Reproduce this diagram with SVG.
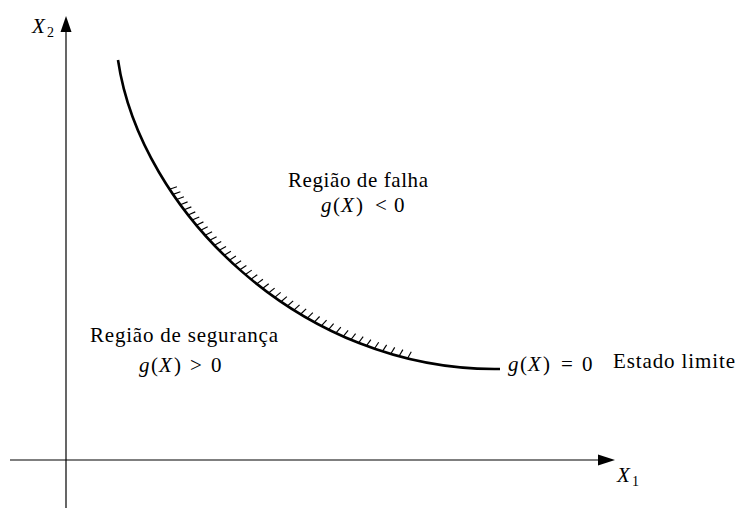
<svg xmlns="http://www.w3.org/2000/svg" width="738" height="510" viewBox="0 0 738 510">
<style>
text{font-family:'Liberation Serif','DejaVu Serif',serif;font-size:21px;fill:#000}
.i{font-style:italic}
.s{font-size:14px}
.ax{stroke:#000;stroke-width:1.2;fill:none}
</style>
<defs>
<marker id="tick" markerUnits="userSpaceOnUse" markerWidth="20" markerHeight="20" refX="0" refY="0" orient="auto" overflow="visible">
<line x1="0" y1="0" x2="2" y2="-7.5" stroke="#000" stroke-width="1.15"/>
</marker>
</defs>
<g id="axes">
<line class="ax" x1="66" y1="508" x2="66" y2="30"/>
<polygon points="66,16 60.5,32 71.5,32" fill="#000"/>
<line class="ax" x1="10" y1="460" x2="600" y2="460"/>
<polygon points="615,460 598,454.5 598,465.5" fill="#000"/>
<text x="32" y="33" font-size="23"><tspan class="i">X</tspan><tspan class="s" x="47" y="37">2</tspan></text>
<text x="617" y="482" font-size="23"><tspan class="i">X</tspan><tspan class="s" x="632" y="486">1</tspan></text>
</g>
<g id="limit-curve">
<polyline fill="none" stroke="none" marker-start="url(#tick)" marker-mid="url(#tick)" marker-end="url(#tick)" points="169.57,189.21 173.03,194.37 176.62,199.52 180.33,204.67 184.15,209.82 188.11,214.95 192.18,220.07 196.38,225.17 200.71,230.25 205.16,235.31 209.73,240.35 214.44,245.35 219.27,250.32 224.23,255.26 229.32,260.15 234.54,265.00 239.89,269.81 245.36,274.55 250.97,279.25 256.71,283.88 262.58,288.45 268.58,292.95 274.72,297.37 280.98,301.72 287.38,306.00 293.90,310.16 300.56,314.24 307.35,318.22 314.27,322.10 321.33,325.87 328.51,329.53 335.83,333.07 343.27,336.48 350.85,339.75 358.55,342.90 366.39,345.89 374.35,348.74 382.44,351.43 390.66,353.96 399.00,356.32 407.47,358.50"/>
<path d="M118,60 C140,210 300,372 500,369" fill="none" stroke="#000" stroke-width="2.6"/>
</g>
<g id="labels">
<text x="288" y="187" textLength="140" lengthAdjust="spacing">Região de falha</text>
<text y="212"><tspan class="i" x="321">g</tspan><tspan x="333">(</tspan><tspan class="i" x="341">X</tspan><tspan x="356">)</tspan><tspan x="375">&lt;</tspan><tspan x="394">0</tspan></text>
<text x="90" y="342" textLength="188" lengthAdjust="spacing">Região de segurança</text>
<text y="372"><tspan class="i" x="139">g</tspan><tspan x="151">(</tspan><tspan class="i" x="159">X</tspan><tspan x="174">)</tspan><tspan x="190">&gt;</tspan><tspan x="211">0</tspan></text>
<text y="371"><tspan class="i" x="508">g</tspan><tspan x="520">(</tspan><tspan class="i" x="528">X</tspan><tspan x="543">)</tspan><tspan x="561">=</tspan><tspan x="582">0</tspan></text>
<text x="613" y="368" textLength="122" lengthAdjust="spacing">Estado limite</text>
</g>
</svg>
